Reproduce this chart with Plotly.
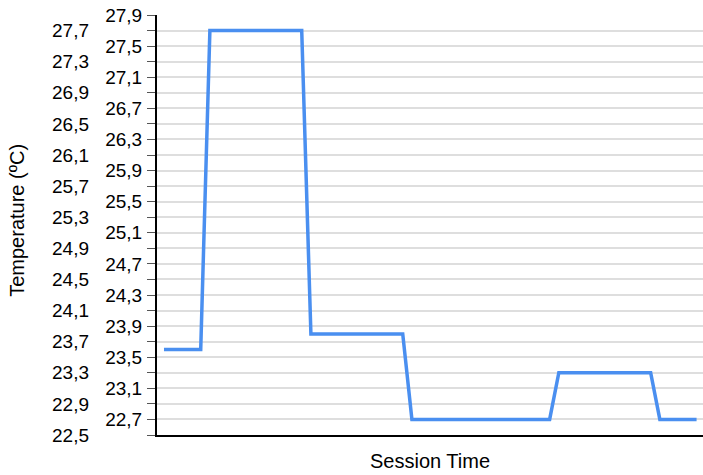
import plotly.graph_objects as go

# ---- data ----
session_time = list(range(1, 60))
temperature = [
    23.6, 23.6, 23.6, 23.6, 23.6,
    27.7, 27.7, 27.7, 27.7, 27.7, 27.7, 27.7, 27.7, 27.7, 27.7, 27.7,
    23.8, 23.8, 23.8, 23.8, 23.8, 23.8, 23.8, 23.8, 23.8, 23.8, 23.8,
    22.7, 22.7, 22.7, 22.7, 22.7, 22.7, 22.7, 22.7, 22.7, 22.7, 22.7, 22.7, 22.7, 22.7, 22.7, 22.7,
    23.3, 23.3, 23.3, 23.3, 23.3, 23.3, 23.3, 23.3, 23.3, 23.3, 23.3,
    22.7, 22.7, 22.7, 22.7, 22.7,
]
ticks_inner = [27.9, 27.5, 27.1, 26.7, 26.3, 25.9, 25.5, 25.1, 24.7, 24.3, 23.9, 23.5, 23.1, 22.7]
ticks_outer = [27.7, 27.3, 26.9, 26.5, 26.1, 25.7, 25.3, 24.9, 24.5, 24.1, 23.7, 23.3, 22.9, 22.5]
x_title = "Session Time"
y_title = "Temperature (ºC)"


def fmt(v):
    return f"{v:.1f}".replace(".", ",")


all_ticks = sorted(ticks_inner + ticks_outer)
inner_text = [fmt(v) if v in ticks_inner else "" for v in all_ticks]

W, H = 703, 475
FONT = "Liberation Sans, Arial, sans-serif"

fig = go.Figure()
fig.add_trace(go.Scatter(
    x=session_time, y=temperature, mode="lines",
    line=dict(color="#4a8ff0", width=3.5),
    showlegend=False, hoverinfo="skip",
))
# invisible trace to activate second y axis
fig.add_trace(go.Scatter(
    x=[session_time[0]], y=[temperature[0]], yaxis="y2", mode="markers",
    marker=dict(opacity=0), showlegend=False, hoverinfo="skip",
))

yr = [22.5, 27.9]
fig.update_layout(
    width=W, height=H,
    margin=dict(l=0, r=0, t=15, b=40),
    paper_bgcolor="white", plot_bgcolor="white",
    font=dict(family=FONT, color="black"),
    xaxis=dict(
        domain=[157 / W, 1], range=[0.24, 59.7], automargin=False,
        showgrid=False, zeroline=False, showticklabels=False, ticks="",
        showline=True, linecolor="black", linewidth=2,
        title=dict(text=x_title, font=dict(size=20), standoff=18),
    ),
    yaxis=dict(
        range=yr, tickmode="array", tickvals=all_ticks, ticktext=inner_text,
        automargin=False,
        showgrid=True, gridcolor="#dedede", gridwidth=2, zeroline=False,
        showline=True, linecolor="black", linewidth=2,
        ticks="outside", ticklen=8, tickwidth=1, tickcolor="#555555",
        tickfont=dict(size=19), ticklabelstandoff=1,
    ),
    yaxis2=dict(
        range=yr, overlaying="y", anchor="free", position=89 / W, side="left",
        automargin=False,
        tickmode="array", tickvals=ticks_outer, ticktext=[fmt(v) for v in ticks_outer],
        showgrid=False, zeroline=False, showline=False, ticks="",
        tickfont=dict(size=19),
    ),
    annotations=[dict(
        text=y_title, xref="paper", yref="paper", x=17 / W, y=0.51,
        xanchor="center", yanchor="middle", textangle=-90, showarrow=False,
        font=dict(size=20, family=FONT, color="black"),
    )],
)

fig.write_html(
    "out.html",
    config={"displayModeBar": False},
    post_script="document.body.style.margin='0';document.body.style.overflow='hidden';",
)
